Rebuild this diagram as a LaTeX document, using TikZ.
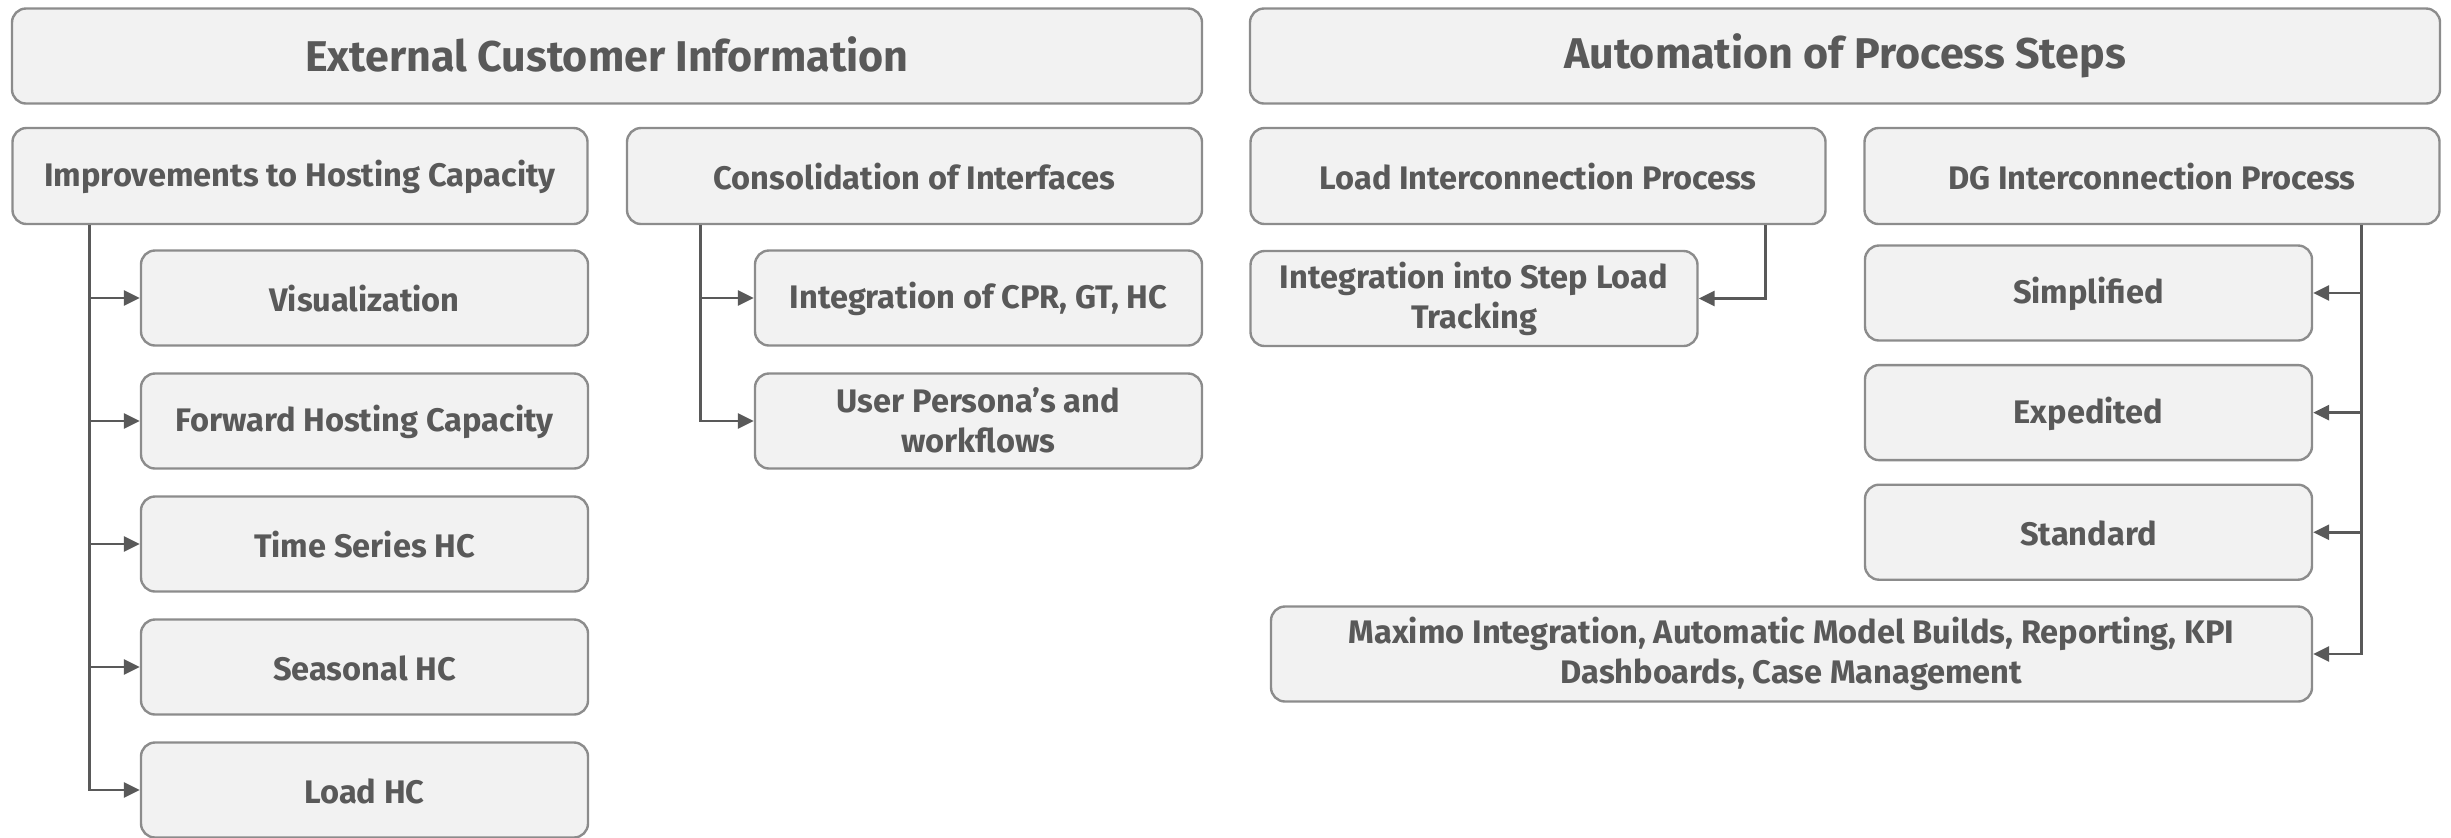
\documentclass[tikz,border=0pt]{standalone}
\usepackage{fontspec}
\setmainfont{Fira Sans}
\usetikzlibrary{positioning}
\usetikzlibrary{arrows.meta}
\definecolor{boxfill}{HTML}{F2F2F2}
\definecolor{boxline}{HTML}{8C8C8C}
\definecolor{ink}{HTML}{595959}
\newcommand{\leafstrut}{\rule[-1pt]{0pt}{15.6pt}}
\newcommand{\hdrstrut}{\rule[-1.5pt]{0pt}{18.2pt}}

\begin{document}
\begin{tikzpicture}[x=0.5pt,y=-0.5pt,node distance=12.8pt,
box/.style={draw=boxline,fill=boxfill,line width=1.2pt,rounded corners=7pt,text=ink,
  font=\bfseries\fontsize{16.3}{20}\selectfont,align=center,inner sep=0pt,
  execute at begin node=\leafstrut,execute at end node=\leafstrut},
hdr/.style={box,minimum width=595pt,minimum height=47.5pt,font=\bfseries\fontsize{21.5}{24}\selectfont,
  execute at begin node=\hdrstrut,execute at end node=\hdrstrut},
grp/.style={box,minimum width=287.5pt,minimum height=48pt},
leaf/.style={box,minimum width=223.5pt,minimum height=47.5pt},
link/.style={draw=ink,line width=1.4pt,-{Triangle[length=8pt,width=7.5pt]}}]
\useasboundingbox (0,0) rectangle (2451,837);

% headers
\node[hdr] (ext)  at (607,56)  {External Customer Information};
\node[hdr] (auto) at (1845,56) {Automation of Process Steps};

% second row
\node[grp] (hosting)  at (300,176)   {Improvements to Hosting Capacity};
\node[grp] (consol)   at (914.5,176) {Consolidation of Interfaces};
\node[grp] (loadproc) at (1538,176)  {Load Interconnection Process};
\node[grp] (dgproc)   at (2152,176)  {DG Interconnection Process};

% hosting capacity
\node[leaf]              (vis)    at (364.5,298) {Visualization};
\node[leaf,below=of vis]  (fwd)    {Forward Hosting Capacity};
\node[leaf,below=of fwd]  (tshc)   {Time Series HC};
\node[leaf,below=of tshc] (seas)   {Seasonal HC};
\node[leaf,below=of seas] (loadhc) {Load HC};

% interfaces
\node[leaf]              (cpr)     at (978.5,298) {Integration of CPR, GT, HC};
\node[leaf,below=of cpr] (persona) {User Persona’s and\\workflows};

% load process
\node[leaf] (steptrack) at (1474,298.5) {Integration into Step Load\\Tracking};

% DG process
\node[leaf]                      (simp)  at (2088.5,293) {Simplified};
\node[leaf,below=11.1pt of simp]  (exped) {Expedited};
\node[leaf,below=11.1pt of exped] (std)   {Standard};
\node[leaf,minimum width=520.5pt] (maximo) at (1791.5,654)
  {Maximo Integration, Automatic Model Builds, Reporting, KPI\\Dashboards, Case Management};

\foreach \leaf in {vis,fwd,tshc,seas,loadhc}
  \draw[link] ([xshift=39.25pt]hosting.south west) |- (\leaf.west);
\foreach \leaf in {cpr,persona}
  \draw[link] ([xshift=37.5pt]consol.south west) |- (\leaf.west);
\draw[link] ([xshift=-30.5pt]loadproc.south east) |- (steptrack.east);
\foreach \leaf in {simp,exped,std,maximo}
  \draw[link] ([xshift=-39.5pt]dgproc.south east) |- (\leaf.east);
\end{tikzpicture}
\end{document}
